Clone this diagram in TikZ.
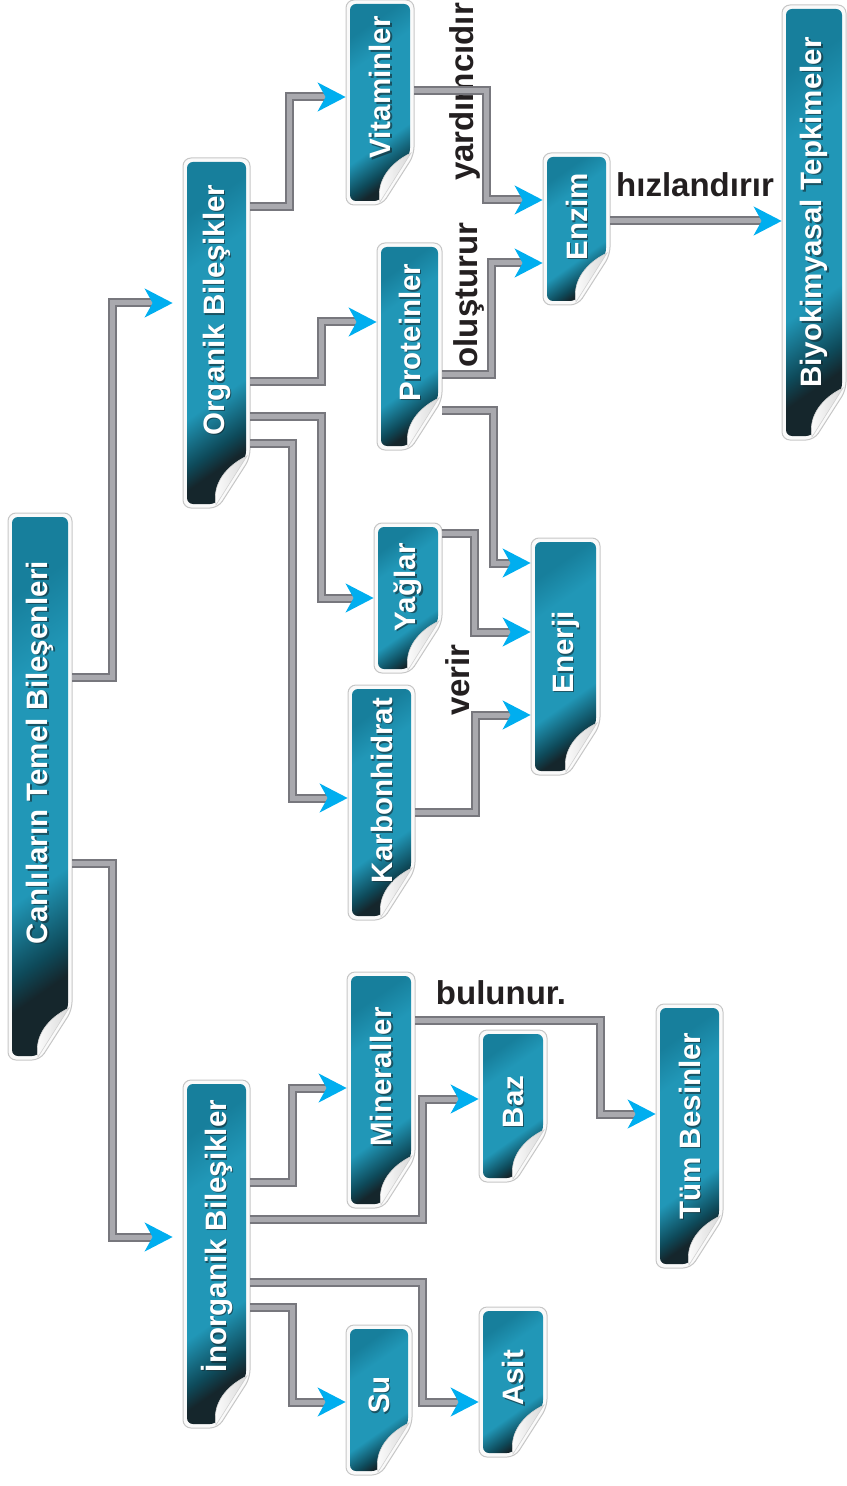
\documentclass[tikz,border=0pt]{standalone}
\usepackage{fontspec}
\setmainfont{Liberation Sans}
\usepackage{xcolor}
\usepackage{tikz}
\usetikzlibrary{arrows.meta, fit}

\definecolor{tealtop}{HTML}{177F9C}
\definecolor{teallight}{HTML}{2197B7}
\definecolor{tealdark}{HTML}{0E4A5A}
\definecolor{tealblack}{HTML}{15262C}
\definecolor{pipegray}{HTML}{77777D}
\definecolor{pipelight}{HTML}{A9A9AE}
\definecolor{arrowcyan}{HTML}{00AEEF}
\definecolor{labelink}{HTML}{231F20}

\pgfdeclareverticalshading{sticker}{100bp}{color(0bp)=(tealblack); color(25bp)=(tealblack); color(29bp)=(tealdark); color(38bp)=(teallight); color(65bp)=(teallight); color(75bp)=(tealtop); color(100bp)=(tealtop)}

% [text lift]{name}{x0}{y0}{x1}{y1}{text}
\newcommand{\sticker}[7][12]{%
  \node[fit={(#3,#4) (#5,#6)}, inner sep=0pt] (#2) {};
  \filldraw[stickrim] (#3,#6) -- (#3,#4) -- (#5,#4) -- (#5,#6-50) -- (#5-32,#6) -- cycle;
  \shade[stickbody] (#3+4,#6-4) -- (#3+4,#4+4) -- (#5-4,#4+4) -- (#5-4,#6-51) -- (#5-34,#6-4) -- cycle;
  \shade[stickcurl] (#5-3,#6-52) .. controls (#5-24,#6-42) and (#5-38,#6-24) .. (#5-34,#6-3) -- cycle;
  \node[sticktext, text=tealblack, opacity=.6] (#2shd) at ([shift={(1.5,1.5-#1)}]#2.center) {#7};
  \node[sticktext] (#2txt) at ([shift={(0,-#1)}]#2.center) {#7};
}

\begin{document}
\begin{tikzpicture}[
    x=0.5pt, y=-0.5pt,
    stickrim/.style = {fill=gray!4, draw=gray!45, line width=0.5pt, rounded corners=4pt},
    stickbody/.style = {shading=sticker, shading angle=35, rounded corners=3pt},
    stickcurl/.style = {left color=white, right color=gray!30, draw=gray!35, line width=0.3pt},
    sticktext/.style = {text=white, font=\fontsize{14.75}{17}\selectfont\bfseries, inner sep=0pt, rotate=90},
    linklabel/.style = {text=labelink, font=\fontsize{16.5}{19}\selectfont\bfseries, inner sep=0pt},
    pipe/.style = {draw=pipegray, line width=1pt, double=pipelight, double distance=2.5pt,
                   -{Stealth[length=14pt, width=14.5pt, inset=4pt, color=arrowcyan]}}
  ]
    \useasboundingbox (0,0) rectangle (846,1486);

    \sticker[34]{canli}{8}{513}{72}{1060}{Canlıların Temel Bileşenleri}
    \sticker[23]{org}{183}{158}{250}{508}{Organik Bileşikler}
    \sticker[18]{inorg}{183}{1080}{250}{1428}{İnorganik Bileşikler}
    \sticker[15]{vit}{346}{0}{414}{205}{Vitaminler}
    \sticker[14]{prot}{377}{243}{442}{450}{Proteinler}
    \sticker[11]{yag}{374}{523}{442}{673}{Yağlar}
    \sticker[12]{karb}{348}{685}{415}{920}{Karbonhidrat}
    \sticker[12]{enzim}{543}{153}{610}{305}{Enzim}
    \sticker[4]{enerji}{531}{538}{600}{775}{Enerji}
    \sticker[10]{biyo}{782}{5}{846}{440}{Biyokimyasal Tepkimeler}
    \sticker[13]{min}{347}{972}{415}{1208}{Mineraller}
    \sticker[4]{baz}{479}{1030}{547}{1182}{Baz}
    \sticker[10]{tum}{656}{1004}{723}{1268}{Tüm Besinler}
    \sticker[5]{su}{346}{1325}{412}{1475}{Su}
    \sticker[4]{asit}{479}{1307}{547}{1457}{Asit}

    \node[linklabel, rotate=90] (yardim) at (465,92) {yardımcıdır};
    \node[linklabel, rotate=90] (olustur) at (469,295) {oluşturur};
    \node[linklabel, rotate=90] (verir) at (458,680) {verir};
    \node[linklabel] (hizlan) at (695,185) {hızlandırır};
    \node[linklabel] (bulunur) at (501,993) {bulunur.};

    \draw[pipe, shorten >=5pt] (canli.east |- 0,677) -| (112,303) -- (org.west |- 0,303);
    \draw[pipe, shorten >=5pt] (canli.east |- 0,863) -| (112,1237) -- (inorg.west |- 0,1237);
    \draw[pipe] (org.east |- 0,207) -| (289,97) -- (vit.west |- 0,97);
    \draw[pipe] (org.east |- 0,382) -| (321,322) -- (prot.west |- 0,322);
    \draw[pipe] (org.east |- 0,417) -| (321,598) -- (yag.west |- 0,598);
    \draw[pipe] (org.east |- 0,443) -| (292,798) -- (karb.west |- 0,798);
    \draw[pipe] (vit.east |- 0,91) -| (486,200) -- (enzim.west |- 0,200);   % yardimcidir
    \draw[pipe] (prot.east |- 0,375) -| (491,263) -- (enzim.west |- 0,263); % olusturur
    \draw[pipe] (enzim.east |- 0,221) -- (biyo.west |- 0,221);              % hizlandirir
    \draw[pipe] (prot.east |- 0,411) -| (493,563) -- (enerji.west |- 0,563);
    \draw[pipe] (yag.east |- 0,533) -| (474,632) -- (enerji.west |- 0,632);
    \draw[pipe] (karb.east |- 0,812) -| (475,715) -- (enerji.west |- 0,715); % verir
    \draw[pipe] (inorg.east |- 0,1182) -| (292,1088) -- (min.west |- 0,1088);
    \draw[pipe] (inorg.east |- 0,1219) -| (422,1099) -- (baz.west |- 0,1099);
    \draw[pipe] (inorg.east |- 0,1282) -| (422,1402) -- (asit.west |- 0,1402);
    \draw[pipe] (inorg.east |- 0,1307) -| (292,1402) -- (su.west |- 0,1402);
    \draw[pipe] (min.east |- 0,1020) -| (600,1114) -- (tum.west |- 0,1114); % bulunur
\end{tikzpicture}
\end{document}
